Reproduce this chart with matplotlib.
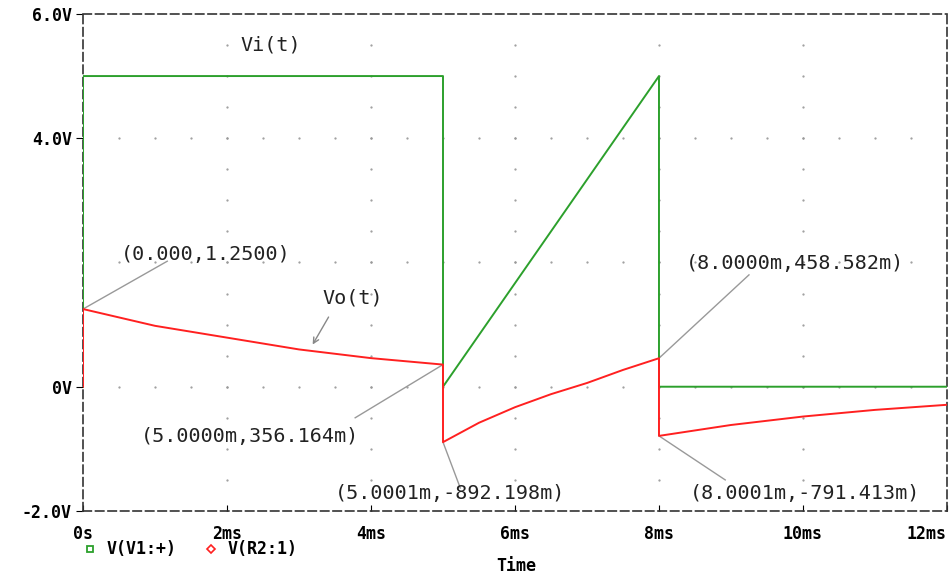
import matplotlib.pyplot as plt
from matplotlib.lines import Line2D
import numpy as np

# time in ms, volts
vi_t = [0, 0, 5, 5.0001, 8, 8.0001, 12]
vi_v = [0, 5, 5, 0, 5, 0, 0]

vo_t = [0, 0, 1, 2, 3, 4, 5, 5.0001, 5.5, 6, 6.5, 7, 7.5, 8, 8.0001, 9, 10, 11, 12]
vo_v = [0, 1.25, 0.98, 0.79, 0.60, 0.46, 0.356164, -0.892198, -0.58, -0.33, -0.12,
        0.06, 0.27, 0.458582, -0.791413, -0.616, -0.48, -0.373, -0.291]

xticks = [0, 2, 4, 6, 8, 10, 12]
xlabels = ["0s", "2ms", "4ms", "6ms", "8ms", "10ms", "12ms"]
yticks = [-2, 0, 4, 6]
ylabels = ["-2.0V", "0V", "4.0V", "6.0V"]
grid_x = [2, 4, 6, 8, 10]
grid_y = [0, 2, 4]

# annotated points: (x, y, label, line end, text pos)
marks = [
    (0, 1.25, "(0.000,1.2500)", (1.17, 2.02), (0.53, 2.13)),
    (5, 0.356164, "(5.0000m,356.164m)", (3.78, -0.50), (0.80, -0.80)),
    (5.0001, -0.892198, "(5.0001m,-892.198m)", (5.24, -1.63), (3.50, -1.72)),
    (8, 0.458582, "(8.0000m,458.582m)", (9.25, 1.80), (8.37, 1.99)),
    (8.0001, -0.791413, "(8.0001m,-791.413m)", (8.92, -1.50), (8.43, -1.72)),
]

green = "#2ca02c"
red = "#ff2020"
mono = "DejaVu Sans Mono"

fig = plt.figure(figsize=(9.5, 5.8), dpi=100)
ax = fig.add_axes([0.0874, 0.119, 0.9094, 0.857])

# dotted grid, PSpice style
for gx in grid_x:
    ax.plot(np.full(16, gx), np.arange(-2, 6, 0.5), ls="none", marker=".",
            ms=1.2, color="#999999", zorder=1)
for gy in grid_y:
    ax.plot(np.arange(0.5, 12, 0.5), np.full(23, gy), ls="none", marker=".",
            ms=1.2, color="#999999", zorder=1)

ax.plot(vi_t, vi_v, color=green, lw=1.4, zorder=3)
ax.plot(vo_t, vo_v, color=red, lw=1.4, zorder=3)

for x, y, lab, lend, tpos in marks:
    ax.plot([x, lend[0]], [y, lend[1]], color="#999999", lw=1, zorder=2)
    ax.text(tpos[0], tpos[1], lab, fontsize=14.5, family=mono, color="#222222",
            va="center", ha="left")

ax.text(2.18, 5.5, "Vi(t)", fontsize=14.5, family=mono, color="#222222", va="center")
ax.text(3.32, 1.42, "Vo(t)", fontsize=14.5, family=mono, color="#222222", va="center")
ax.annotate("", xy=(3.17, 0.64), xytext=(3.43, 1.16),
            arrowprops=dict(arrowstyle="->", color="#888888", lw=1))

ax.set_xlim(0, 12)
ax.set_ylim(-2, 6)
ax.set_xticks(xticks)
ax.set_xticklabels(xlabels)
ax.set_yticks(yticks)
ax.set_yticklabels(ylabels)
ax.tick_params(axis="x", direction="in", length=4, pad=10, labelsize=12)
ax.tick_params(axis="y", direction="out", length=5, pad=3, labelsize=12)
for lab in ax.get_xticklabels() + ax.get_yticklabels():
    lab.set_family(mono)
    lab.set_fontweight("bold")
ax.get_xticklabels()[-1].set_horizontalalignment("right")
ax.get_xticklabels()[-1].set_x(12.1)

for s in ax.spines.values():
    s.set_linestyle((0, (5, 2.5)))
    s.set_color("#333333")
    s.set_linewidth(1.2)

# legend row and axis title
fig.add_artist(Line2D([0.095], [0.053], marker="s", ms=5, mfc="none", mec=green,
                      mew=1.3, transform=fig.transFigure))
fig.text(0.112, 0.053, "V(V1:+)", fontsize=12, family=mono, weight="bold", va="center")
fig.add_artist(Line2D([0.222], [0.053], marker="D", ms=4.5, mfc="none", mec=red,
                      mew=1.2, transform=fig.transFigure))
fig.text(0.240, 0.053, "V(R2:1)", fontsize=12, family=mono, weight="bold", va="center")
fig.text(0.543, 0.024, "Time", fontsize=12, family=mono, weight="bold", va="center", ha="center")

fig.savefig("out.png", dpi=100)
